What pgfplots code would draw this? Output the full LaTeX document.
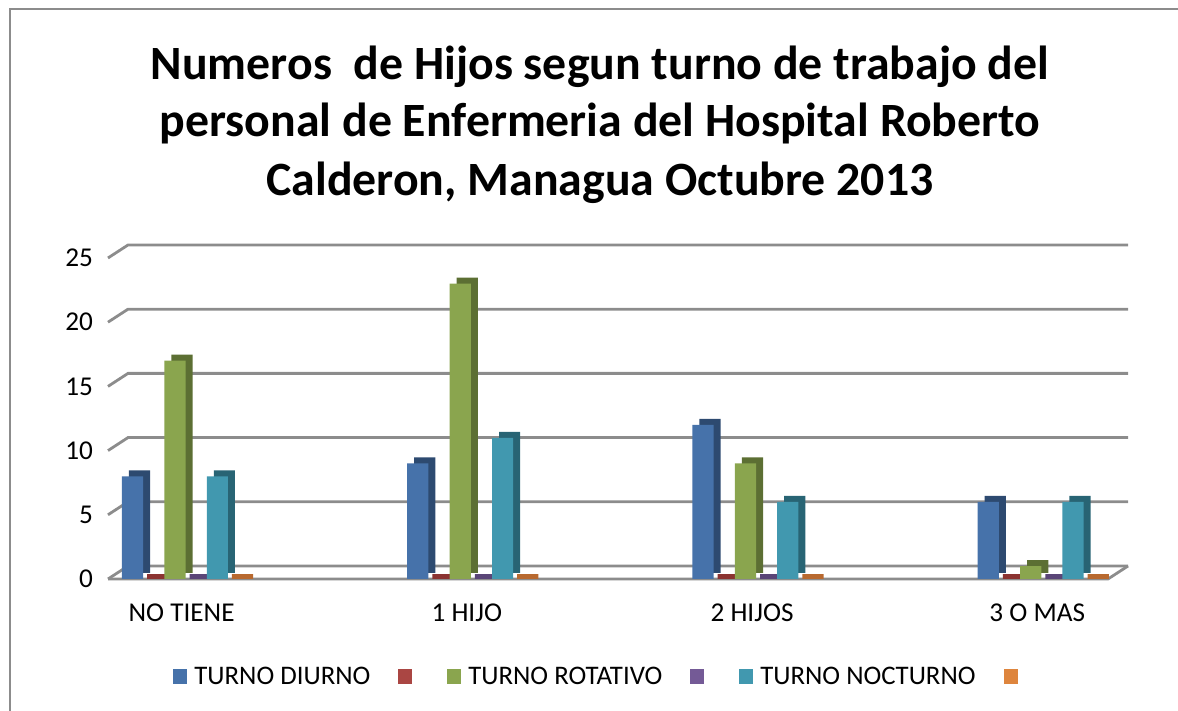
\documentclass[border=0pt]{standalone}
\usepackage{fontspec}
\setmainfont{Carlito}
\usepackage{pgfplots}
\pgfplotsset{compat=1.18}
\definecolor{cblue}{HTML}{4672AA}
\definecolor{cblueD}{HTML}{2D4A70}
\definecolor{cred}{HTML}{AA4643}
\definecolor{credD}{HTML}{8B3331}
\definecolor{cgreen}{HTML}{8AA54E}
\definecolor{cgreenD}{HTML}{5C6F33}
\definecolor{cpurple}{HTML}{745A96}
\definecolor{cpurpleD}{HTML}{5A4577}
\definecolor{cteal}{HTML}{4198AF}
\definecolor{ctealD}{HTML}{286474}
\definecolor{corange}{HTML}{DE853D}
\definecolor{corangeD}{HTML}{B8692F}
\definecolor{gridc}{HTML}{8C8C8C}
\begin{document}
\begin{tikzpicture}
\draw[gridc, line width=1pt] (5pt,0) -- (5pt,351pt) -- (589pt,351pt);
\node[anchor=base, font=\fontsize{23.9}{28}\selectfont\bfseries] at (300pt,315.5pt) {Numeros\ \ de Hijos segun turno de trabajo del};
\node[anchor=base, font=\fontsize{23.9}{28}\selectfont\bfseries] at (300pt,287pt) {personal de Enfermeria del Hospital Roberto};
\node[anchor=base, font=\fontsize{23.9}{28}\selectfont\bfseries] at (300pt,257.5pt) {Calderon, Managua Octubre 2013};
\begin{axis}[
  at={(54pt,66pt)}, anchor=south west,
  scale only axis, width=500pt, height=160.5pt,
  xmin=-0.272, xmax=3.234, ymin=0, ymax=25,
  clip=false, set layers,
  axis line style={draw=none}, tick style={draw=none},
  xtick={0,1,2,3}, xticklabels={NO TIENE, 1 HIJO, 2 HIJOS, 3 O MAS},
  ytick={0,5,10,15,20,25},
  /pgf/number format/assume math mode=true,
  tick label style={font=\fontsize{13.6}{16}\selectfont},
  yticklabel style={xshift=-4pt},
  xticklabel style={yshift=-9pt, xshift=-2pt},
  bar width=10.6pt,
  legend columns=6,
  legend image code/.code={\fill (0pt,-3.75pt) rectangle (7pt,3.75pt);},
  legend style={at={(0.065,-0.305)}, anchor=west, draw=none, inner sep=0pt,
    font=\fontsize{13.4}{16}\selectfont, nodes={inner xsep=3.5pt},
    /tikz/every even column/.append style={column sep=10.5pt}},
]
\begin{pgfonlayer}{axis background}
\pgfplotsinvokeforeach{0,5,10,15,20,25}{
  \draw[gridc, line width=1.4pt] (axis cs:-0.272,#1) -- ++(10pt,6.5pt) -- ([shift={(10pt,6.5pt)}]axis cs:3.234,#1);
}
\draw[gridc, line width=1.4pt] (axis cs:-0.272,0) -- (axis cs:3.234,0) -- ++(10pt,6.5pt);
\end{pgfonlayer}
\addlegendimage{fill=cblue, draw=none}
\addlegendentry{TURNO DIURNO}
\addlegendimage{fill=cred, draw=none}
\addlegendentry{}
\addlegendimage{fill=cgreen, draw=none}
\addlegendentry{TURNO ROTATIVO}
\addlegendimage{fill=cpurple, draw=none}
\addlegendentry{}
\addlegendimage{fill=cteal, draw=none}
\addlegendentry{TURNO NOCTURNO}
\addlegendimage{fill=corange, draw=none}
\addlegendentry{}
% series
\addplot[ybar, forget plot, bar shift=-26.5pt, fill=cblue, draw=none,
  preaction={fill=cblueD, transform canvas={shift={(3.5pt,3pt)}}}]
  coordinates {(0,8) (1,9) (2,12) (3,6)};
\addplot[ybar, forget plot, bar shift=-15.9pt, draw=credD, line width=2.2pt,
  transform canvas={shift={(2pt,1.2pt)}}]
  coordinates {(0,0) (1,0) (2,0) (3,0)};
\addplot[ybar, forget plot, bar shift=-5.3pt, fill=cgreen, draw=none,
  preaction={fill=cgreenD, transform canvas={shift={(3.5pt,3pt)}}}]
  coordinates {(0,17) (1,23) (2,9) (3,1)};
\addplot[ybar, forget plot, bar shift=5.3pt, draw=cpurpleD, line width=2.2pt,
  transform canvas={shift={(2pt,1.2pt)}}]
  coordinates {(0,0) (1,0) (2,0) (3,0)};
\addplot[ybar, forget plot, bar shift=15.9pt, fill=cteal, draw=none,
  preaction={fill=ctealD, transform canvas={shift={(3.5pt,3pt)}}}]
  coordinates {(0,8) (1,11) (2,6) (3,6)};
\addplot[ybar, forget plot, bar shift=26.5pt, draw=corangeD, line width=2.2pt,
  transform canvas={shift={(2pt,1.2pt)}}]
  coordinates {(0,0) (1,0) (2,0) (3,0)};
\end{axis}
\pgfresetboundingbox
\useasboundingbox (0,0) rectangle (589pt,355.5pt);
\end{tikzpicture}
\end{document}
